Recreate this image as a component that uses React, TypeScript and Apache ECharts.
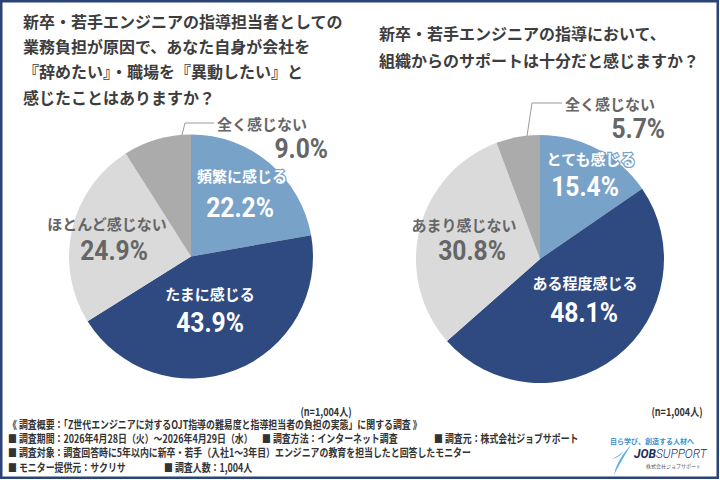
import React, { useEffect, useRef } from "react";
import * as echarts from "echarts";

// Survey answers: burden of mentoring new / junior engineers
const leftNames = ["頻繁に感じる", "たまに感じる", "ほとんど感じない", "全く感じない"];
const leftValues = [22.2, 43.9, 24.9, 9.0];

// Survey answers: organisational support for mentoring
const rightNames = ["とても感じる", "ある程度感じる", "あまり感じない", "全く感じない"];
const rightValues = [15.4, 48.1, 30.8, 5.7];

const leftTitle = [
  "新卒・若手エンジニアの指導担当者としての",
  "業務負担が原因で、あなた自身が会社を",
  "『辞めたい』・職場を『異動したい』と",
  "感じたことはありますか？",
];
const rightTitle = [
  "新卒・若手エンジニアの指導において、",
  "組織からのサポートは十分だと感じますか？",
];

const respondents = "1,004";

const footerLines = [
  "《 調査概要：「Z世代エンジニアに対するOJT指導の難易度と指導担当者の負担の実態」に関する調査 》",
  "■ 調査期間：2026年4月28日（火）〜2026年4月29日（水）",
  "■ 調査方法：インターネット調査",
  "■ 調査元：株式会社ジョブサポート",
  "■ 調査対象：調査回答時に5年以内に新卒・若手（入社1〜3年目）エンジニアの教育を担当したと回答したモニター",
  "■ モニター提供元：サクリサ",
  `■ 調査人数：${respondents}人`,
];

const sliceColors = ["#79a2c9", "#2e4a81", "#dadada", "#ababab"];
const labelColors = ["#ffffff", "#ffffff", "#666666", "#666666"];

// label anchor points per slice: name (nx, ny, na), value (vx, vy, va)
const leftLabelPos = [
  { nx: 242, ny: 175, na: "center", vx: 240, vy: 207, va: "center" },
  { nx: 210, ny: 293, na: "center", vx: 210, vy: 322, va: "center" },
  { nx: 107, ny: 223, na: "center", vx: 114, vy: 250, va: "center" },
  { nx: 217, ny: 123, na: "left", vx: 328, vy: 148, va: "right" },
];
const rightLabelPos = [
  { nx: 591, ny: 158, na: "center", vx: 585, vy: 186, va: "center" },
  { nx: 585, ny: 282, na: "center", vx: 584, vy: 312, va: "center" },
  { nx: 464, ny: 224, na: "center", vx: 472, vy: 250, va: "center" },
  { nx: 565, ny: 103, na: "left", vx: 665, vy: 128, va: "right" },
];

const JP = '"Noto Sans CJK JP", "Noto Sans", sans-serif';
const NUM = 'Roboto, "Noto Sans", sans-serif';

function pieLabels(names: string[], values: number[], pos: any[]) {
  const out: any[] = [];
  names.forEach((n, i) => {
    const p = pos[i];
    const onDark = labelColors[i] === "#ffffff";
    const outline = onDark ? { stroke: sliceColors[i], lineWidth: 2.5 } : {};
    out.push({
      type: "text",
      x: p.nx,
      y: p.ny,
      z: 100,
      silent: true,
      style: {
        text: n,
        fill: labelColors[i],
        font: `bold 15px ${JP}`,
        align: p.na,
        verticalAlign: "middle",
        ...outline,
      },
    });
    out.push({
      type: "text",
      x: p.vx,
      y: p.vy,
      z: 100,
      scaleX: 0.88,
      silent: true,
      style: {
        text: values[i].toFixed(1) + "%",
        fill: labelColors[i],
        font: `bold 28px ${NUM}`,
        align: p.va,
        verticalAlign: "middle",
      },
    });
  });
  return out;
}

function pieSeries(names: string[], values: number[], center: number[], radius: number) {
  return {
    type: "pie",
    center,
    radius,
    startAngle: 90,
    clockwise: true,
    silent: true,
    z: 2,
    label: { show: false },
    labelLine: { show: false },
    itemStyle: { borderWidth: 0 },
    data: names.map((n, i) => ({
      name: n,
      value: values[i],
      itemStyle: { color: sliceColors[i] },
    })),
  };
}

echarts.graphic.registerShape(
  "swoosh",
  echarts.graphic.extendPath(
    "M20 0 C12 8 5 17 2 30 C7 21 13 11 20 0 Z M12 6 C8 10 4 12 0 14 C5 13 9 11 12 6 Z",
    {}
  )
);

export default function App() {
  const ref = useRef<HTMLDivElement>(null);

  useEffect(() => {
    if (!ref.current) return;
    const chart = echarts.init(ref.current, null, { renderer: "svg" });

    const titleTexts: any[] = [
      ...leftTitle.map((t, i) => ({
        type: "text",
        x: 23,
        y: 20.7 + i * 25.3,
        style: { text: t, fill: "#3d3d3d", font: `bold 16px ${JP}`, verticalAlign: "middle" },
      })),
      ...rightTitle.map((t, i) => ({
        type: "text",
        x: 379,
        y: 33.3 + i * 26.7,
        style: { text: t, fill: "#3d3d3d", font: `bold 16px ${JP}`, verticalAlign: "middle" },
      })),
    ];

    const footerPos = [
      [8, 424],
      [8, 438],
      [262, 438],
      [434, 438],
      [8, 452],
      [8, 467],
      [164, 467],
    ];
    const footerTexts = footerLines.map((t, i) => ({
      type: "text",
      x: footerPos[i][0],
      y: footerPos[i][1],
      scaleX: 0.81,
      style: { text: t, fill: "#333333", font: `bold 11px ${JP}`, verticalAlign: "middle" },
    }));

    const nTexts = [326, 677].map((cx) => ({
      type: "text",
      x: cx,
      y: 411,
      scaleX: 0.82,
      style: {
        text: `(n=${respondents}人)`,
        fill: "#333333",
        font: `bold 11px ${JP}`,
        align: "center",
        verticalAlign: "middle",
      },
    }));

    const leaderStyle = { stroke: "#9a9a9a", lineWidth: 1, fill: "none" };

    chart.setOption({
      animation: false,
      backgroundColor: "#ffffff",
      series: [
        pieSeries(leftNames, leftValues, [191, 256.5], 122),
        pieSeries(rightNames, rightValues, [540, 259], 124),
      ],
      graphic: [
        {
          type: "rect",
          z: 100,
          shape: { x: 1.25, y: 1.25, width: 716.5, height: 476.5 },
          style: { fill: "none", stroke: "#2b4475", lineWidth: 2.5 },
          silent: true,
        },
        ...titleTexts,
        {
          type: "polyline",
          z: 100,
          shape: { points: [[182, 135], [185, 123], [214, 123]] },
          style: leaderStyle,
          silent: true,
        },
        {
          type: "polyline",
          z: 100,
          shape: { points: [[527, 136], [532, 103], [562, 103]] },
          style: leaderStyle,
          silent: true,
        },
        ...pieLabels(leftNames, leftValues, leftLabelPos),
        ...pieLabels(rightNames, rightValues, rightLabelPos),
        ...nTexts,
        ...footerTexts,
        // company logo
        {
          type: "text",
          x: 610,
          y: 441,
          style: {
            text: "自ら学び、創造する人材へ",
            fill: "#3b8fd2",
            font: `bold 7px ${JP}`,
            verticalAlign: "middle",
          },
        },
        {
          type: "swoosh",
          x: 612,
          y: 445,
          scaleX: 0.95,
          scaleY: 1,
          style: { fill: "#62b3e3" },
        },
        {
          type: "text",
          x: 634,
          y: 454,
          style: {
            text: "{a|JOB}{b|SUPPORT}",
            verticalAlign: "middle",
            rich: {
              a: { fill: "#1d2d5a", font: `italic bold 12px ${NUM}` },
              b: { fill: "#1d2d5a", font: `italic 300 12px ${NUM}` },
            },
          },
        },
        {
          type: "text",
          x: 646,
          y: 465,
          style: {
            text: "株式会社ジョブサポート",
            fill: "#555555",
            font: `5px ${JP}`,
            verticalAlign: "middle",
          },
        },
      ],
    });

    return () => chart.dispose();
  }, []);

  return (
    <div
      ref={ref}
      style={{ position: "absolute", left: 0, top: 0, width: 720, height: 480 }}
    />
  );
}
